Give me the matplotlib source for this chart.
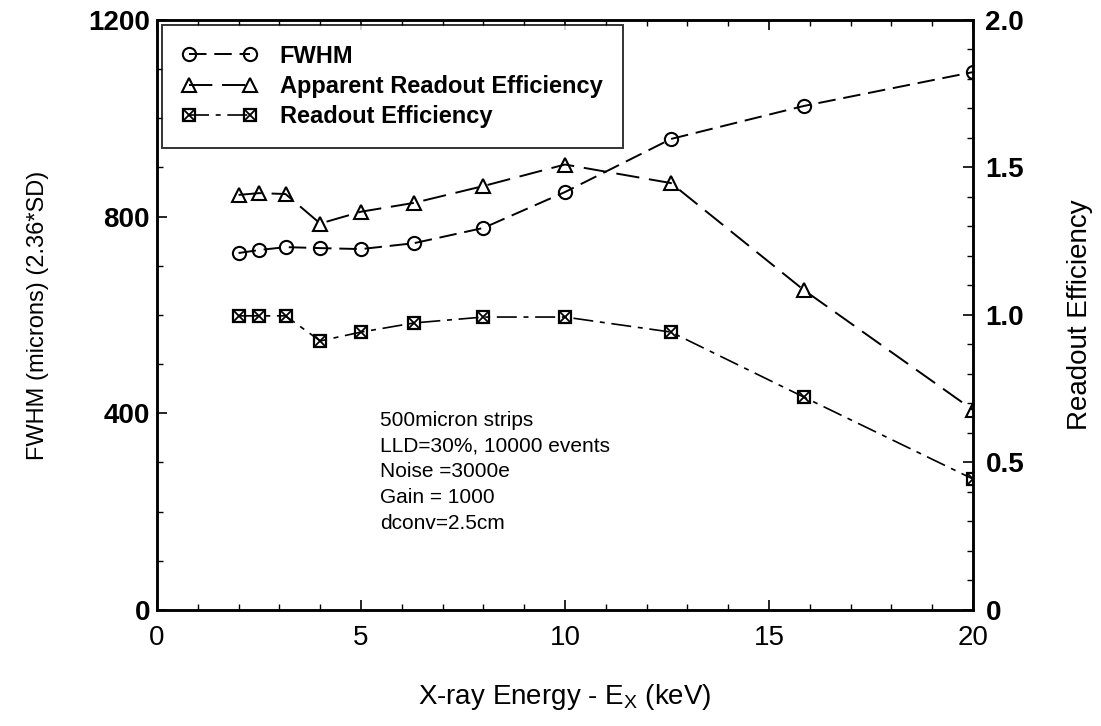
import matplotlib
matplotlib.use('Agg')
import matplotlib.pyplot as plt
from matplotlib.ticker import MultipleLocator
from matplotlib.legend_handler import HandlerTuple

plt.rcParams['font.family'] = ['Liberation Sans', 'DejaVu Sans']

# x-ray energies (keV)
energy = [2.0, 2.5, 3.15, 4.0, 5.0, 6.3, 8.0, 10.0, 12.6, 15.85, 20.0]
# FWHM in microns (left axis)
fwhm = [726, 732, 738, 736, 734, 746, 777, 850, 958, 1025, 1094]
# efficiencies (right axis)
apparent_eff = [1.407, 1.413, 1.41, 1.31, 1.35, 1.38, 1.437, 1.51, 1.447, 1.085, 0.678]
readout_eff = [0.997, 0.997, 0.997, 0.912, 0.942, 0.973, 0.993, 0.993, 0.942, 0.722, 0.444]

notes = ['500micron strips', 'LLD=30%, 10000 events', 'Noise =3000e',
         'Gain = 1000', 'dconv=2.5cm']

fig = plt.figure(figsize=(11.01, 7.26), dpi=100)
ax = fig.add_axes([0.1426, 0.1598, 0.7411, 0.8127])
ax2 = ax.twinx()

l1, = ax.plot(energy, fwhm, color='black', lw=1.4, ls=(0, (9, 4)),
              marker='o', ms=9.5, mfc='none', mew=1.5, label='FWHM')
l2, = ax2.plot(energy, apparent_eff, color='black', lw=1.4, ls=(0, (12, 5)),
               marker='^', ms=9.5, mfc='none', mew=1.5,
               label='Apparent Readout Efficiency')
l3, = ax2.plot(energy, readout_eff, color='black', lw=1.2, ls=(0, (12, 4, 3, 4)),
               marker='s', ms=9, mfc='none', mew=1.6,
               label='Readout Efficiency')
# crossed squares: overlay an x on the square markers
lx, = ax2.plot(energy, readout_eff, ls='none', marker='x', ms=7, mew=1.3, color='black')

ax.set_xlim(0, 20)
ax.set_ylim(0, 1200)
ax2.set_ylim(0, 2.0)

ax.xaxis.set_minor_locator(MultipleLocator(1))
ax.yaxis.set_minor_locator(MultipleLocator(100))
ax2.yaxis.set_minor_locator(MultipleLocator(0.1))

ax.set_xticks([0, 5, 10, 15, 20])
ax.set_xticklabels(['0', '5', '10', '15', '20'])
ax.set_yticks([0, 400, 800, 1200])
ax.set_yticklabels(['0', '400', '800', '1200'], fontweight='bold')
ax2.set_yticks([0, 0.5, 1.0, 1.5, 2.0])
ax2.set_yticklabels(['0', '0.5', '1.0', '1.5', '2.0'], fontweight='bold')

ax.tick_params(axis='both', which='both', direction='in', top=True)
ax.tick_params(axis='both', which='major', length=7, width=1.2, labelsize=20)
ax.tick_params(axis='both', which='minor', length=4, width=1)
ax.tick_params(axis='x', pad=11)
ax.tick_params(axis='y', right=False, pad=5)
ax2.tick_params(axis='y', which='both', direction='in')
ax2.tick_params(axis='y', which='major', length=7, width=1.2, labelsize=20, pad=9)
ax2.tick_params(axis='y', which='minor', length=4, width=1)

for a in (ax, ax2):
    for s in a.spines.values():
        s.set_linewidth(1.8)

ax.set_xlabel(r'X-ray Energy - E$_\mathregular{X}$ (keV)', fontsize=20, labelpad=22)
ax.set_ylabel('FWHM (microns) (2.36*SD)', fontsize=17, labelpad=28)
ax2.set_ylabel('Readout Efficiency', fontsize=20, labelpad=31)

ax.text(5.47, 281, '\n'.join(notes), fontsize=15, va='center', ha='left',
        linespacing=1.45)

leg = ax2.legend(handles=[l1, l2, (l3, lx)],
                 labels=['FWHM', 'Apparent Readout Efficiency', 'Readout Efficiency'],
                 handler_map={tuple: HandlerTuple(ndivide=1)},
                 loc='upper left', numpoints=2,
                 handlelength=3.2, prop={'size': 17, 'weight': 'bold'},
                 frameon=True, fancybox=False, borderaxespad=0.2,
                 labelspacing=0.3, borderpad=0.85, handletextpad=0.95)
leg.get_frame().set_edgecolor('black')
leg.get_frame().set_linewidth(1.4)

fig.savefig('out.png', dpi=100)
